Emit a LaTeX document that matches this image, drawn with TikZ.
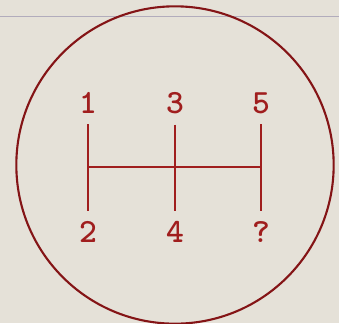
\documentclass[tikz,border=0pt]{standalone}
\usepackage{tikz}
\usetikzlibrary{positioning,calc}
\definecolor{paper}{RGB}{229,225,216}
\definecolor{maroon}{RGB}{160,30,30}
\definecolor{knobred}{RGB}{132,20,22}
\definecolor{rule}{RGB}{178,172,188}

\begin{document}
\begin{tikzpicture}[x=0.03cm,y=0.03cm,
    gearnum/.style={text=maroon,font=\ttfamily\bfseries\fontsize{29}{29}\selectfont,inner sep=0pt,inner ysep=9pt},
    gate/.style={maroon,line width=2.2pt}]
        \fill[paper] (0,0) rectangle (339,323);
        \useasboundingbox (0,0) rectangle (339,323);
        \draw[rule,line width=0.8pt] (0,307) -- (339,307);
        \node[circle,draw=knobred,line width=1.8pt,minimum size=9.52cm,inner sep=0pt] (knob) at (175,158) {};
        % top row
        \node[gearnum] (g1) at (88,220) {1};
        \node[gearnum] (g3) at (175,220) {3};
        \node[gearnum] (g5) at (261,220) {5};
        % bottom row
        \node[gearnum] (g2) at (88,91) {2};
        \node[gearnum] (g4) at (175,91) {4};
        \node[gearnum] (gr) at (261,91) {?};
        \coordinate (neutral) at (175,156);
        \draw[gate] (g1) -- (g2);
        \draw[gate] (g3) -- (g4);
        \draw[gate] (g5) -- (gr);
        \draw[gate] (g1 |- neutral) -- (g5 |- neutral);
\end{tikzpicture}
\end{document}
